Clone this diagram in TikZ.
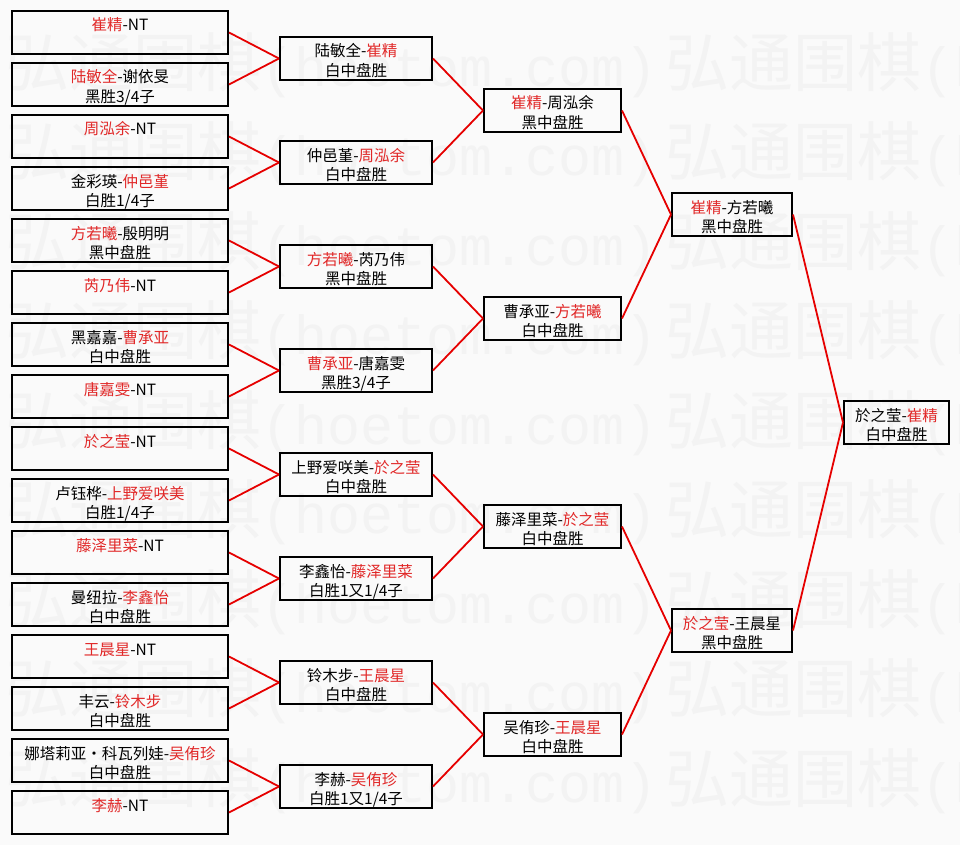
\documentclass[tikz,border=0pt]{standalone}
\usepackage{fontspec}
\setmainfont{Noto Sans CJK SC}
\newfontfamily\wmmono{Liberation Mono}

\definecolor{winred}{RGB}{225,40,40}
\definecolor{wirered}{RGB}{230,0,0}
\definecolor{bgpaper}{RGB}{250,250,250}
\definecolor{ghost}{RGB}{243,243,243}

\newcommand{\wn}[1]{\textcolor{winred}{#1}}

\tikzset{
  game/.style={draw=black, line width=2pt, inner xsep=0pt, inner ysep=0pt,
    align=center, text height=20pt, text depth=23pt,
    font=\fontsize{15.5}{19.5}\selectfont},
  wire/.style={draw=wirered, line width=1.8pt},
  wmtext/.style={text=ghost, inner sep=0pt, anchor=west}
}

\begin{document}
\begin{tikzpicture}[x=1pt,y=-1pt]

  \fill[bgpaper] (0,0) rectangle (960,845);
  \useasboundingbox (0,0) rectangle (960,845);

  % watermark
  \begin{scope}
    \clip (0,0) rectangle (960,845);
    \foreach \r in {0,...,8}
      \foreach \s in {0,1}
        \node[wmtext] at (5+660*\s, 65+89.5*\r)
          {\fontsize{64}{64}\selectfont 弘通围棋{\wmmono\fontsize{55}{55}\selectfont (hoetom.com)}};
  \end{scope}

  % round 1
  \begin{scope}[every node/.style={game, text width=216pt}]
    \node (r1m1)  at (120,32.5)  {\wn{崔精}-NT};
    \node (r1m2)  at (120,84.5)  {\wn{陆敏全}-谢依旻\\黑胜3/4子};
    \node (r1m3)  at (120,136.5) {\wn{周泓余}-NT};
    \node (r1m4)  at (120,188.5) {金彩瑛-\wn{仲邑堇}\\白胜1/4子};
    \node (r1m5)  at (120,240.5) {\wn{方若曦}-殷明明\\黑中盘胜};
    \node (r1m6)  at (120,292.5) {\wn{芮乃伟}-NT};
    \node (r1m7)  at (120,344.5) {黑嘉嘉-\wn{曹承亚}\\白中盘胜};
    \node (r1m8)  at (120,396.5) {\wn{唐嘉雯}-NT};
    \node (r1m9)  at (120,448.5) {\wn{於之莹}-NT};
    \node (r1m10) at (120,500.5) {卢钰桦-\wn{上野爱咲美}\\白胜1/4子};
    \node (r1m11) at (120,552.5) {\wn{藤泽里菜}-NT};
    \node (r1m12) at (120,604.5) {曼纽拉-\wn{李鑫怡}\\白中盘胜};
    \node (r1m13) at (120,656.5) {\wn{王晨星}-NT};
    \node (r1m14) at (120,708.5) {丰云-\wn{铃木步}\\白中盘胜};
    \node (r1m15) at (120,760.5) {娜塔莉亚・科瓦列娃-\wn{吴侑珍}\\白中盘胜};
    \node (r1m16) at (120,812.5) {\wn{李赫}-NT};
  \end{scope}

  % round 2
  \begin{scope}[every node/.style={game, text width=152pt}]
    \node (r2m1) at (356,58.5)  {陆敏全-\wn{崔精}\\白中盘胜};
    \node (r2m2) at (356,162.5) {仲邑堇-\wn{周泓余}\\白中盘胜};
    \node (r2m3) at (356,266.5) {\wn{方若曦}-芮乃伟\\黑中盘胜};
    \node (r2m4) at (356,370.5) {\wn{曹承亚}-唐嘉雯\\黑胜3/4子};
    \node (r2m5) at (356,474.5) {上野爱咲美-\wn{於之莹}\\白中盘胜};
    \node (r2m6) at (356,578.5) {李鑫怡-\wn{藤泽里菜}\\白胜1又1/4子};
    \node (r2m7) at (356,682.5) {铃木步-\wn{王晨星}\\白中盘胜};
    \node (r2m8) at (356,786.5) {李赫-\wn{吴侑珍}\\白胜1又1/4子};
  \end{scope}

  % round 3
  \begin{scope}[every node/.style={game, text width=137pt}]
    \node (r3m1) at (552.5,110.5) {\wn{崔精}-周泓余\\黑中盘胜};
    \node (r3m2) at (552.5,318.5) {曹承亚-\wn{方若曦}\\白中盘胜};
    \node (r3m3) at (552.5,526.5) {藤泽里菜-\wn{於之莹}\\白中盘胜};
    \node (r3m4) at (552.5,734.5) {吴侑珍-\wn{王晨星}\\白中盘胜};
  \end{scope}

  % semi final and final
  \node[game, text width=120pt] (r4m1) at (732,214.5) {\wn{崔精}-方若曦\\黑中盘胜};
  \node[game, text width=120pt] (r4m2) at (732,630.5) {\wn{於之莹}-王晨星\\黑中盘胜};
  \node[game, text width=105pt] (r5m1) at (896.5,422.5) {於之莹-\wn{崔精}\\白中盘胜};

  % red lines, two per match
  \foreach \r/\n in {1/8,2/4,3/2,4/1} {
    \pgfmathtruncatemacro{\t}{\r+1}
    \foreach \k in {1,...,\n} {
      \pgfmathtruncatemacro{\a}{2*\k-1}
      \pgfmathtruncatemacro{\b}{2*\k}
      \draw[wire] (r\r m\a.east) -- (r\t m\k.west);
      \draw[wire] (r\r m\b.east) -- (r\t m\k.west);
    }
  }

\end{tikzpicture}
\end{document}
